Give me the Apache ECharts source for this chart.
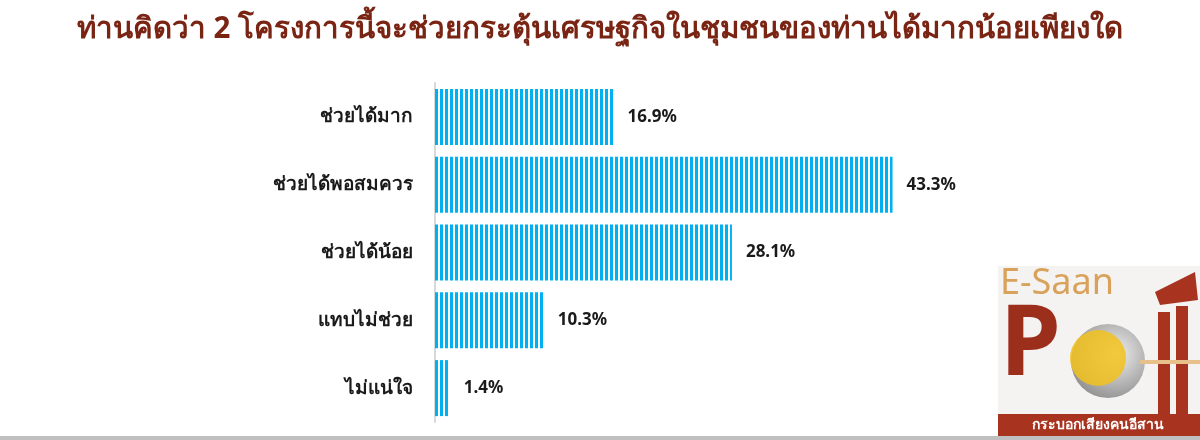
<!DOCTYPE html>
<html><head><meta charset="utf-8">
<script src="https://cdn.jsdelivr.net/npm/echarts@6/dist/echarts.min.js"></script>
<style>html,body{margin:0;background:#fff}#c{width:1200px;height:440px}</style>
</head><body><div id="c"></div>
<script>
const categories = ['ช่วยได้มาก','ช่วยได้พอสมควร','ช่วยได้น้อย','แทบไม่ช่วย','ไม่แน่ใจ'];
const values = [16.9, 43.3, 28.1, 10.3, 1.4];

const pc = document.createElement('canvas');
pc.width = 5; pc.height = 10;
const g = pc.getContext('2d');
g.fillStyle = '#ffffff'; g.fillRect(0,0,5,10);
g.fillStyle = '#00b0f0'; g.fillRect(0,0,3,10);

const chart = echarts.init(document.getElementById('c'));
const F = '"Noto Sans", "DejaVu Sans", sans-serif';
chart.setOption({
  backgroundColor:'#fff',
  title:{text:'ท่านคิดว่า 2 โครงการนี้จะช่วยกระตุ้นเศรษฐกิจในชุมชนของท่านได้มากน้อยเพียงใด',left:'center',top:10,
    textStyle:{color:'#7a2414',fontSize:29.5,fontWeight:'bold',fontFamily:F}},
  grid:{left:435,right:131,top:83,bottom:18},
  xAxis:{type:'value',min:0,max:60,show:false},
  yAxis:{type:'category',data:categories,inverse:true,
    axisLine:{show:true,lineStyle:{color:'#d9d9d9',width:2}},axisTick:{show:false},
    axisLabel:{color:'#1a1a1a',fontSize:19,fontWeight:'bold',fontFamily:F,margin:22}},
  series:[{type:'bar',data:values,barWidth:56,
    itemStyle:{color:{image:pc,repeat:'repeat'}},
    label:{show:true,position:'right',distance:14,formatter:p=>p.value.toFixed(1)+'%',
      color:'#1a1a1a',fontSize:17,fontWeight:'bold',fontFamily:F}}],
  graphic:[
    {type:'rect',shape:{x:0,y:436,width:1200,height:4},style:{fill:'#bfbfbf'}},
    {type:'rect',shape:{x:998,y:266,width:202,height:170},style:{fill:'#f5f3f1'}},
    {type:'text',x:1000,y:266,style:{text:'E-Saan',fontSize:36,fontFamily:F,fill:'#d9a25a'}},
    {type:'polygon',shape:{points:[[1155,292],[1195,272],[1198,300],[1160,305]]},style:{fill:'#a8331f'}},
    {type:'text',x:1000,y:298,style:{text:'P',fontSize:98,fontWeight:'bold',fontFamily:F,fill:'#9c2f1c'}},
    {type:'circle',shape:{cx:1108,cy:361,r:37},style:{fill:{type:'radial',x:0.6,y:0.4,r:0.7,colorStops:[{offset:0,color:'#f0f0f0'},{offset:1,color:'#8a8a8a'}]}}},
    {type:'circle',shape:{cx:1098,cy:358,r:28},style:{fill:'#f2c21c',opacity:0.85}},
    {type:'rect',shape:{x:1158,y:312,width:12,height:102},style:{fill:'#a8331f'}},
    {type:'rect',shape:{x:1176,y:306,width:12,height:108},style:{fill:'#a8331f'}},
    {type:'rect',shape:{x:1140,y:360,width:60,height:4},style:{fill:'#e8c08a'}},
    {type:'rect',shape:{x:998,y:414,width:202,height:22},style:{fill:'#a8331f'}},
    {type:'text',x:1098,y:425,style:{text:'กระบอกเสียงคนอีสาน',align:'center',verticalAlign:'middle',fontSize:14,fontWeight:'bold',fontFamily:F,fill:'#fff'}}
  ]
});
</script></body></html>
